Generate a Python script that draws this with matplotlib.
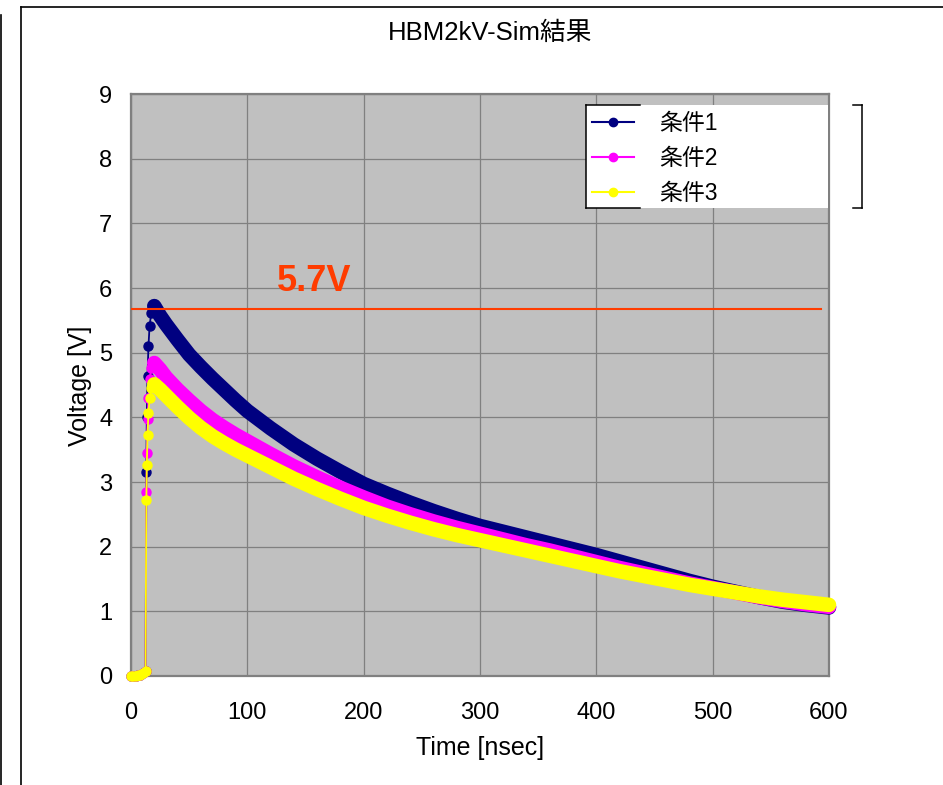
import matplotlib
matplotlib.use("Agg")
import matplotlib.pyplot as plt
from matplotlib.lines import Line2D
from matplotlib.patches import Rectangle

# Latin glyphs from Liberation Sans, Japanese falls back to Noto CJK
plt.rcParams["font.family"] = ["Liberation Sans", "Noto Sans CJK JP"]

W, H = 943, 785

# time axis [nsec]: step part and decay part
t_rise = [0, 2, 4, 6, 8, 10, 12.5, 13.2, 13.6, 14.2, 15.0, 16.0, 17.5, 19.0]
t_decay = [20, 25, 30, 40, 50, 60, 70, 80, 90, 100, 120, 140, 160, 180, 200,
           220, 240, 260, 280, 300, 320, 340, 360, 380, 400, 420, 440, 460,
           480, 500, 520, 540, 560, 580, 600]

# voltage [V]
cond1_rise = [0.0, 0.0, 0.0, 0.01, 0.02, 0.04, 0.08, 3.16, 4.00, 4.64, 5.10, 5.42, 5.62, 5.70]
cond2_rise = [0.0, 0.0, 0.0, 0.01, 0.02, 0.04, 0.08, 2.85, 3.45, 3.98, 4.30, 4.60, 4.76, 4.82]
cond3_rise = [0.0, 0.0, 0.0, 0.01, 0.02, 0.04, 0.08, 2.72, 3.27, 3.73, 4.07, 4.30, 4.45, 4.50]

cond1_decay = [5.72, 5.57, 5.44, 5.20, 4.97, 4.78, 4.60, 4.43, 4.26, 4.10,
               3.83, 3.58, 3.36, 3.16, 2.97, 2.82, 2.68, 2.55, 2.43, 2.32,
               2.23, 2.14, 2.05, 1.96, 1.87, 1.77, 1.67, 1.57, 1.47, 1.38,
               1.30, 1.22, 1.15, 1.10, 1.06]
cond2_decay = [4.84, 4.74, 4.62, 4.43, 4.26, 4.10, 3.96, 3.84, 3.73, 3.63,
               3.43, 3.24, 3.07, 2.91, 2.76, 2.62, 2.50, 2.39, 2.29, 2.20,
               2.11, 2.02, 1.94, 1.85, 1.76, 1.67, 1.59, 1.51, 1.43, 1.36,
               1.29, 1.22, 1.16, 1.11, 1.07]
cond3_decay = [4.51, 4.43, 4.34, 4.16, 3.99, 3.84, 3.71, 3.60, 3.50, 3.41,
               3.23, 3.05, 2.89, 2.74, 2.60, 2.48, 2.37, 2.27, 2.18, 2.10,
               2.02, 1.94, 1.86, 1.78, 1.70, 1.62, 1.55, 1.48, 1.41, 1.35,
               1.29, 1.23, 1.18, 1.14, 1.10]

labels = ["条件1", "条件2", "条件3"]
colors = ["#000080", "#FF00FF", "#FFFF00"]

peak_level = 5.67
peak_text = "5.7V"
line_end = 593


def fx(px):
    return px / W


def fy(py):
    return 1 - py / H


fig = plt.figure(figsize=(W / 100, H / 100), dpi=100)
fig.patch.set_facecolor("white")

ax = fig.add_axes([fx(131), fy(676), fx(829) - fx(131), fy(94) - fy(676)])
ax.set_facecolor("#C0C0C0")
ax.set_xlim(0, 600)
ax.set_ylim(0, 9)
ax.set_xticks(range(0, 601, 100))
ax.set_yticks(range(0, 10))
ax.grid(True, color="#808080", lw=0.9)
ax.set_axisbelow(True)
for s in ax.spines.values():
    s.set_color("#808080")
    s.set_linewidth(1.6)
ax.tick_params(length=0, labelsize=17)
ax.tick_params(axis="y", pad=13.5)
ax.tick_params(axis="x", pad=19)

series = [(cond1_rise, cond1_decay), (cond2_rise, cond2_decay), (cond3_rise, cond3_decay)]
for i, ((rise, decay), c) in enumerate(zip(series, colors)):
    z = 3 + i
    ax.plot(t_rise + t_decay[:1], rise + decay[:1], color=c, lw=1.3,
            marker="o", ms=6.5, mec=c, clip_on=False, zorder=z)
    ax.plot(t_decay, decay, color=c, lw=10.5, solid_capstyle="round",
            solid_joinstyle="round", clip_on=False, zorder=z)

# 5.7V reference line
ax.plot([0, line_end], [peak_level, peak_level], color="#FF3C00", lw=1.5, zorder=8)
ax.text(125, 5.95, peak_text, color="#FF3C00", fontsize=26, fontweight="bold",
        ha="left", va="baseline", zorder=8)

# legend box (white, with the odd partial border)
fig.add_artist(Rectangle((fx(586), fy(208)), fx(828) - fx(586), fy(105) - fy(208),
                         transform=fig.transFigure, facecolor="white",
                         edgecolor="none", zorder=2))
lk = dict(transform=fig.transFigure, color="black", lw=1.1, zorder=3)
fig.add_artist(Line2D([fx(586), fx(586)], [fy(105), fy(208)], **lk))
fig.add_artist(Line2D([fx(586), fx(640)], [fy(105), fy(105)], **lk))
fig.add_artist(Line2D([fx(586), fx(640)], [fy(208), fy(208)], **lk))
fig.add_artist(Line2D([fx(862), fx(862)], [fy(105), fy(208)], **lk))
fig.add_artist(Line2D([fx(853), fx(862)], [fy(105), fy(105)], **lk))
fig.add_artist(Line2D([fx(853), fx(862)], [fy(208), fy(208)], **lk))

handles = [Line2D([], [], color=c, lw=1.5, marker="o", ms=6, mec=c) for c in colors]
leg = fig.legend(handles, labels, loc="upper left",
                 bbox_to_anchor=(fx(592), fy(112)), frameon=False, fontsize=16.5,
                 handlelength=1.85, handletextpad=1.1, labelspacing=0.52,
                 borderpad=0, borderaxespad=0)
leg.set_zorder(5)

# titles and axis labels
fig.text(fx(490), fy(33), "HBM2kV-Sim結果", fontsize=18.5, ha="center", va="center")
fig.text(fx(480), fy(748), "Time [nsec]", fontsize=18, ha="center", va="center")
fig.text(fx(80), fy(386), "Voltage [V]", fontsize=18, ha="center", va="center",
         rotation=90)

# outer frame lines
fk = dict(transform=fig.transFigure, color="black", lw=1.2)
fig.add_artist(Line2D([fx(1), fx(1)], [fy(15), 0], **fk))
fig.add_artist(Line2D([fx(20.5), fx(20.5)], [fy(7), 0], **fk))
fig.add_artist(Line2D([fx(20.5), 1], [fy(7), fy(7)], **fk))

fig.savefig("out.png", dpi=100)
